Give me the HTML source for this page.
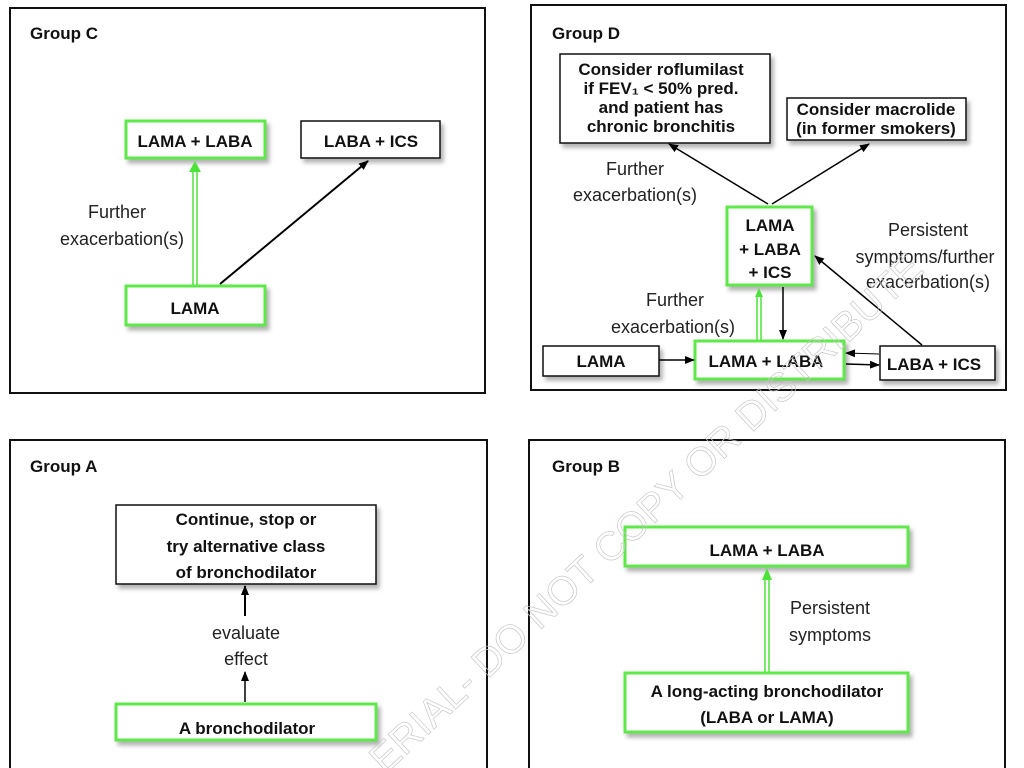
<!DOCTYPE html>
<html><head><meta charset="utf-8"><style>
html,body{margin:0;padding:0;background:#fff;}
svg{display:block;font-family:"Liberation Sans",sans-serif;}
.b{font-weight:bold;font-size:17px;fill:#111;}
.n{font-size:18px;fill:#222;}
.g{font-weight:bold;font-size:17px;fill:#111;}
</style></head><body>
<svg width="1024" height="768" viewBox="0 0 1024 768" xmlns="http://www.w3.org/2000/svg">
<defs>
<marker id="ah" markerWidth="10" markerHeight="10" refX="9" refY="5" orient="auto" markerUnits="userSpaceOnUse"><path d="M0,1 L10,5 L0,9 Z" fill="#000"/></marker>
<filter id="sh" x="-10%" y="-20%" width="130%" height="160%"><feDropShadow dx="3" dy="4" stdDeviation="2" flood-color="#000" flood-opacity="0.3"/></filter>
</defs>

<rect x="10" y="8" width="475" height="385" fill="none" stroke="#111" stroke-width="2"/>
<rect x="531" y="5" width="475" height="385" fill="none" stroke="#111" stroke-width="2"/>
<rect x="10" y="440" width="477" height="340" fill="none" stroke="#111" stroke-width="2"/>
<rect x="529" y="440" width="476" height="340" fill="none" stroke="#111" stroke-width="2"/>

<text class="g" x="30" y="39">Group C</text>
<text class="g" x="552" y="39">Group D</text>
<text class="g" x="30" y="472">Group A</text>
<text class="g" x="552" y="472">Group B</text>

<!-- Group C -->
<rect x="126" y="121" width="139" height="37" fill="#fff" stroke="#5ee84a" stroke-width="3" filter="url(#sh)"/>
<text class="b" x="195" y="147" text-anchor="middle" font-size="18">LAMA + LABA</text>
<rect x="301" y="121" width="139" height="37" fill="#fff" stroke="#111" stroke-width="1.5" filter="url(#sh)"/>
<text class="b" x="371" y="147" text-anchor="middle" font-size="18">LABA + ICS</text>
<rect x="126" y="286" width="139" height="39" fill="#fff" stroke="#5ee84a" stroke-width="3" filter="url(#sh)"/>
<text class="b" x="195" y="314" text-anchor="middle" font-size="18">LAMA</text>
<line x1="193" y1="285" x2="193" y2="170" stroke="#4ee33a" stroke-width="1.5"/>
<line x1="197" y1="285" x2="197" y2="170" stroke="#4ee33a" stroke-width="1.5"/>
<path d="M189,172 L195,161 L201,172 Z" fill="#4ee33a"/>
<line x1="220" y1="284" x2="368" y2="161" stroke="#000" stroke-width="2" marker-end="url(#ah)"/>
<text class="n" x="117" y="218" text-anchor="middle">Further</text>
<text class="n" x="122" y="245" text-anchor="middle">exacerbation(s)</text>

<!-- Group D -->
<rect x="560" y="54" width="210" height="89" fill="#fff" stroke="#111" stroke-width="1.5" filter="url(#sh)"/>
<text class="b" x="661" y="75" text-anchor="middle" font-size="18">Consider roflumilast</text>
<text class="b" x="661" y="94" text-anchor="middle" font-size="18">if FEV₁ &lt; 50% pred.</text>
<text class="b" x="661" y="113" text-anchor="middle" font-size="18">and patient has</text>
<text class="b" x="661" y="132" text-anchor="middle" font-size="18">chronic bronchitis</text>
<rect x="787" y="98" width="179" height="42" fill="#fff" stroke="#111" stroke-width="1.5" filter="url(#sh)"/>
<text class="b" x="876" y="115" text-anchor="middle" font-size="16.5">Consider macrolide</text>
<text class="b" x="876" y="134" text-anchor="middle" font-size="16.5">(in former smokers)</text>
<rect x="727" y="207" width="85" height="78" fill="#fff" stroke="#5ee84a" stroke-width="3" filter="url(#sh)"/>
<text class="b" x="770" y="231" text-anchor="middle" font-size="18">LAMA</text>
<text class="b" x="770" y="255" text-anchor="middle" font-size="18">+ LABA</text>
<text class="b" x="770" y="278" text-anchor="middle" font-size="18">+ ICS</text>
<rect x="543" y="346" width="116" height="30" fill="#fff" stroke="#111" stroke-width="1.5" filter="url(#sh)"/>
<text class="b" x="601" y="367" text-anchor="middle" font-size="18">LAMA</text>
<rect x="695" y="341" width="149" height="38" fill="#fff" stroke="#5ee84a" stroke-width="3" filter="url(#sh)"/>
<text class="b" x="766" y="367" text-anchor="middle" font-size="18">LAMA + LABA</text>
<rect x="880" y="346" width="115" height="34" fill="#fff" stroke="#111" stroke-width="1.5" filter="url(#sh)"/>
<text class="b" x="934" y="370" text-anchor="middle" font-size="18">LABA + ICS</text>

<line x1="768" y1="204" x2="669" y2="144" stroke="#000" stroke-width="1.5" marker-end="url(#ah)"/>
<line x1="772" y1="204" x2="869" y2="144" stroke="#000" stroke-width="1.5" marker-end="url(#ah)"/>
<line x1="757" y1="340" x2="757" y2="296" stroke="#4ee33a" stroke-width="1.5"/>
<line x1="761" y1="340" x2="761" y2="296" stroke="#4ee33a" stroke-width="1.5"/>
<path d="M755,297 L759,288 L763,297 Z" fill="#4ee33a"/>
<line x1="783" y1="287" x2="783" y2="339" stroke="#000" stroke-width="1.5" marker-end="url(#ah)"/>
<line x1="659" y1="360" x2="694" y2="360" stroke="#000" stroke-width="1.5" marker-end="url(#ah)"/>
<line x1="879" y1="354" x2="846" y2="353" stroke="#000" stroke-width="1" marker-end="url(#ah)"/>
<line x1="846" y1="364" x2="879" y2="365" stroke="#000" stroke-width="1.5" marker-end="url(#ah)"/>
<line x1="922" y1="345" x2="815" y2="256" stroke="#000" stroke-width="1.5" marker-end="url(#ah)"/>
<text class="n" x="635" y="175" text-anchor="middle">Further</text>
<text class="n" x="635" y="201" text-anchor="middle">exacerbation(s)</text>
<text class="n" x="928" y="236" text-anchor="middle">Persistent</text>
<text class="n" x="925" y="263" text-anchor="middle">symptoms/further</text>
<text class="n" x="928" y="288" text-anchor="middle">exacerbation(s)</text>
<text class="n" x="675" y="306" text-anchor="middle">Further</text>
<text class="n" x="673" y="333" text-anchor="middle">exacerbation(s)</text>

<!-- Group A -->
<rect x="116" y="505" width="260" height="79" fill="#fff" stroke="#111" stroke-width="1.5" filter="url(#sh)"/>
<text class="b" x="246" y="525" text-anchor="middle" font-size="18">Continue, stop or</text>
<text class="b" x="246" y="552" text-anchor="middle" font-size="18">try alternative class</text>
<text class="b" x="246" y="578" text-anchor="middle" font-size="18">of bronchodilator</text>
<line x1="245" y1="616" x2="245" y2="586" stroke="#000" stroke-width="2" marker-end="url(#ah)"/>
<line x1="245" y1="702" x2="245" y2="672" stroke="#000" stroke-width="1.5" marker-end="url(#ah)"/>
<text class="n" x="246" y="639" text-anchor="middle">evaluate</text>
<text class="n" x="246" y="665" text-anchor="middle">effect</text>
<rect x="116" y="704" width="260" height="36" fill="#fff" stroke="#5ee84a" stroke-width="3" filter="url(#sh)"/>
<text class="b" x="247" y="734" text-anchor="middle" font-size="18">A bronchodilator</text>

<!-- Group B -->
<rect x="625" y="527" width="283" height="39" fill="#fff" stroke="#5ee84a" stroke-width="3" filter="url(#sh)"/>
<text class="b" x="767" y="556" text-anchor="middle" font-size="18">LAMA + LABA</text>
<line x1="765" y1="672" x2="765" y2="578" stroke="#4ee33a" stroke-width="1.5"/>
<line x1="769" y1="672" x2="769" y2="578" stroke="#4ee33a" stroke-width="1.5"/>
<path d="M762,580 L767,568 L772,580 Z" fill="#4ee33a"/>
<text class="n" x="830" y="614" text-anchor="middle">Persistent</text>
<text class="n" x="830" y="641" text-anchor="middle">symptoms</text>
<rect x="625" y="673" width="283" height="59" fill="#fff" stroke="#5ee84a" stroke-width="3" filter="url(#sh)"/>
<text class="b" x="767" y="697" text-anchor="middle" font-size="18">A long-acting bronchodilator</text>
<text class="b" x="767" y="723" text-anchor="middle" font-size="18">(LABA or LAMA)</text>

<!-- Watermark -->
<text x="0" y="0" transform="translate(385,775) rotate(-43)" font-size="40" fill="none" stroke="#c8c8c8" stroke-width="0.7" font-family="Liberation Sans, sans-serif">ERIAL- DO NOT COPY OR DISTRIBUTE</text>
</svg>
</body></html>
